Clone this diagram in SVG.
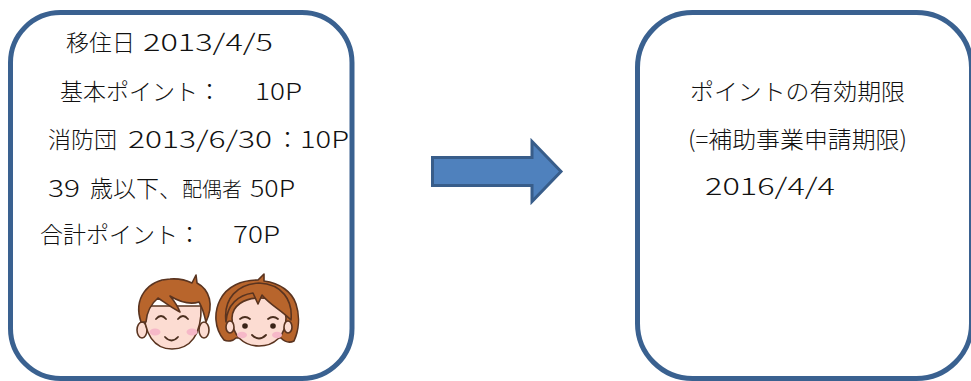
<svg xmlns="http://www.w3.org/2000/svg" width="971" height="381" viewBox="0 0 971 381">
  <style>
    .box { fill: #ffffff; stroke: #3A6190; stroke-width: 5; }
    .t { font-family: "Noto Sans CJK JP", "Liberation Sans", sans-serif; font-size: 23px; font-weight: 300; fill: #111111; }
    .s { font-size: 20px; }
    .ol { stroke: #5a3420; stroke-width: 1.6; stroke-linejoin: round; stroke-linecap: round; }
    .skin { fill: #fcdcd2; }
    .hair { fill: #b8652c; }
    .cheek { fill: #f6b8c8; }
    .line { fill: none; stroke: #4a2e1e; stroke-width: 1.8; stroke-linecap: round; }
  </style>
  <rect width="971" height="381" fill="#ffffff"/>

  <!-- left card: point summary -->
  <g id="points">
    <rect class="box" x="10.5" y="12.5" width="341.5" height="366" rx="50" ry="50"/>
    <text class="t" y="51"><tspan x="66">移住日</tspan><tspan x="143" textLength="130" lengthAdjust="spacingAndGlyphs">2013/4/5</tspan></text>
    <text class="t" y="100"><tspan x="60">基本ポイント：</tspan><tspan x="255" textLength="47" lengthAdjust="spacingAndGlyphs">10P</tspan></text>
    <text class="t" y="148"><tspan x="48">消防団</tspan><tspan x="128" textLength="144" lengthAdjust="spacingAndGlyphs">2013/6/30</tspan><tspan x="276">：</tspan><tspan x="300" textLength="49" lengthAdjust="spacingAndGlyphs">10P</tspan></text>
    <text class="t" y="197"><tspan x="48" textLength="32" lengthAdjust="spacingAndGlyphs">39</tspan><tspan x="90">歳以下、</tspan><tspan class="s" x="182">配偶者</tspan><tspan x="250" textLength="45" lengthAdjust="spacingAndGlyphs">50P</tspan></text>
    <text class="t" y="243"><tspan x="40">合計ポイント：</tspan><tspan x="233" textLength="47" lengthAdjust="spacingAndGlyphs">70P</tspan></text>

    <!-- couple illustration -->
    <g id="face-man">
      <ellipse class="skin ol" cx="142" cy="330" rx="5" ry="8"/>
      <ellipse class="skin ol" cx="204" cy="330" rx="5" ry="8"/>
      <path class="skin ol" d="M144,306 C143,335 155,349 172,349 C190,349 202,335 201,306 Z"/>
      <path class="hair ol" d="M141,322 C133,298 148,280 170,279 C182,278 188,281 192,283 L196,275 L197,283 C210,290 214,305 206,322 C204,313 202,307 199,302 C190,305 180,302 170,296 C175,302 178,307 180,312 C170,307 163,301 158,298 C152,303 147,310 146,322 C144,322 142,322 141,322 Z"/>
      <path class="line" d="M156,319 Q161,313 166,319"/>
      <path class="line" d="M178,319 Q183,313 188,319"/>
      <ellipse class="cheek" cx="155" cy="332" rx="5.5" ry="3.5"/>
      <ellipse class="cheek" cx="192" cy="332" rx="5.5" ry="3.5"/>
      <path class="line" d="M165,337 Q171.5,344 178,337"/>
    </g>
    <g id="face-woman">
      <path class="hair ol" d="M224,340 C214,328 214,312 220,300 C227,286 242,280 258,280 L264,274 L264,281 C280,283 292,292 296,304 C300,316 299,330 294,341 C288,344 283,340 281,338 L236,338 C233,341 228,342 224,340 Z"/>
      <path class="skin ol" d="M232,318 C232,336 244,346 259,346 C274,346 286,336 286,318 C286,306 274,298 259,298 C244,298 232,306 232,318 Z"/>
      <ellipse class="skin ol" cx="230" cy="327" rx="4" ry="6"/>
      <ellipse class="skin ol" cx="288" cy="327" rx="4" ry="6"/>
      <path class="hair ol" d="M226,322 C227,305 238,295 253,293 L258,304 L262,295 C270,305 280,309 291,320 C293,300 282,284 259,283 C238,284 223,298 226,322 Z"/>
      <path class="line" d="M240,319 Q245,315 250,319"/>
      <path class="line" d="M268,319 Q273,315 278,319"/>
      <circle cx="245" cy="326" r="2.8" fill="#3a2418"/>
      <circle cx="273" cy="326" r="2.8" fill="#3a2418"/>
      <ellipse class="cheek" cx="242" cy="335" rx="5" ry="3.2"/>
      <ellipse class="cheek" cx="277" cy="335" rx="5" ry="3.2"/>
      <path class="line" d="M252,335 Q259,342 266,335"/>
    </g>
  </g>

  <!-- connector: block arrow -->
  <g id="connectors">
    <path d="M432.5,157.5 L532,157.5 L532,141.5 L561,171.5 L532,201.5 L532,185.5 L432.5,185.5 Z" fill="#4F81BD" stroke="#385D8A" stroke-width="3" stroke-linejoin="miter"/>
  </g>

  <!-- right card: validity period -->
  <g id="deadline">
    <rect class="box" x="637.5" y="12.5" width="334" height="366" rx="55" ry="55"/>
    <text class="t" y="100" x="690" textLength="215" lengthAdjust="spacingAndGlyphs">ポイントの有効期限</text>
    <text class="t" y="148" x="688" textLength="219" lengthAdjust="spacingAndGlyphs">(=補助事業申請期限)</text>
    <text class="t" y="195" x="705" textLength="130" lengthAdjust="spacingAndGlyphs">2016/4/4</text>
  </g>
</svg>
